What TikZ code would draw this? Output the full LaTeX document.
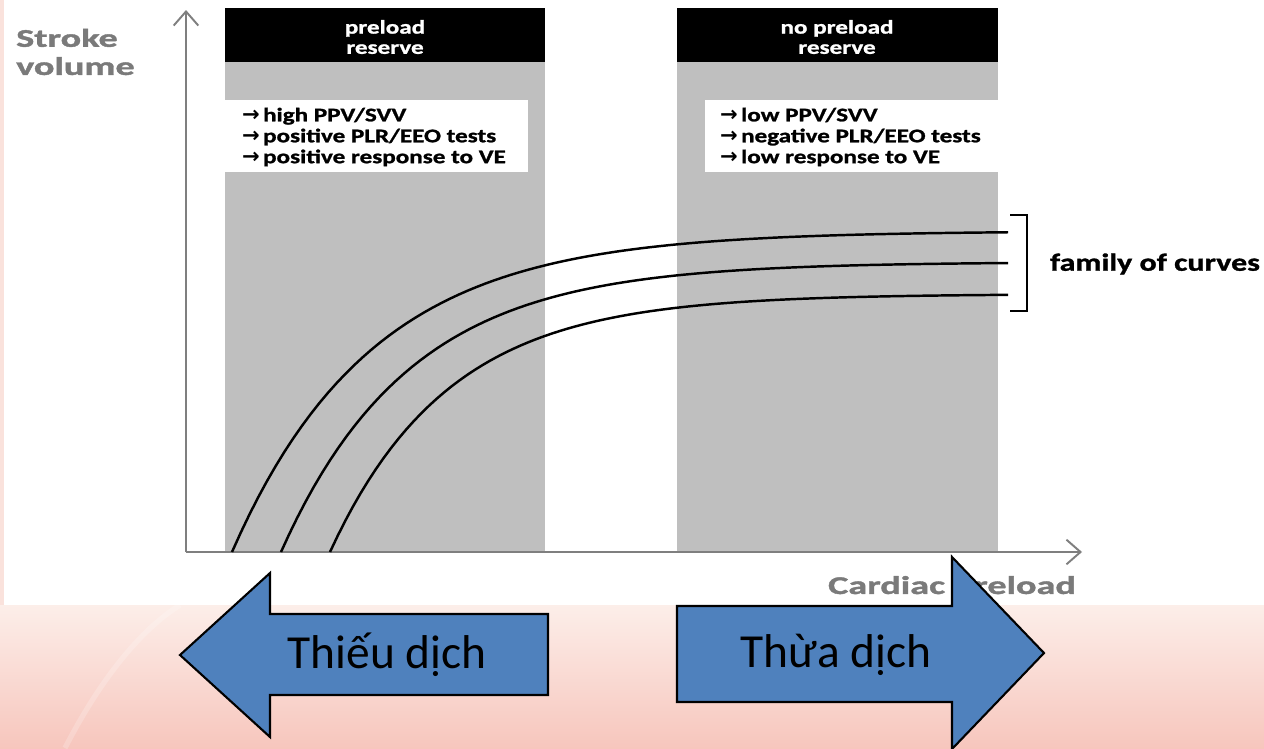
\documentclass[tikz,border=0pt]{standalone}
\usepackage{fontspec}
\setmainfont{Carlito}
\newfontfamily\chartfont[FakeStretch=1.3, FakeBold=1.2]{Carlito}
\newfontfamily\widefont[FakeStretch=1.5, FakeBold=1.5]{Carlito}
\newfontfamily\arrowfont{DejaVu Sans}
\newcommand{\tickarrow}{{\arrowfont\bfseries\fontsize{12}{11.9}\selectfont →}}
\usetikzlibrary{arrows.meta}

\definecolor{panelgray}{HTML}{BFBFBF}
\definecolor{axisgray}{HTML}{7F7F7F}
\definecolor{labelgray}{HTML}{7A7A7A}
\definecolor{arrowblue}{HTML}{4F81BD}
\definecolor{pinktop}{HTML}{FCEEE9}
\definecolor{pinkbot}{HTML}{F7C6BD}

\begin{document}
\begin{tikzpicture}[x=0.02cm, y=-0.02cm,
    axis/.style={axisgray, line width=1.1pt, -{Straight Barb[length=8pt,width=14pt]}},
    curve/.style={black, line width=1.4pt},
    headtext/.style={white, font=\chartfont\bfseries\fontsize{11}{11.5}\selectfont, align=center},
    listtext/.style={black, font=\chartfont\bfseries\fontsize{11}{11.9}\selectfont, align=left, anchor=west},
    axislabel/.style={labelgray, font=\widefont\bfseries\fontsize{14.5}{16}\selectfont, align=left},
    bluearrow/.style={fill=arrowblue, draw=black, line width=1.2pt, line join=miter},
    arrowtext/.style={black, font=\fontsize{27}{30}\selectfont}]
    \useasboundingbox (0,0) rectangle (1264,748);
    \clip (0,0) rectangle (1264,748);

    % slide background
    \shade[top color=pinktop, bottom color=pinkbot] (0,605) rectangle (1264,748);
    \fill[pinktop!70!pinkbot] (0,0) rectangle (4,605);
    \draw[white, opacity=0.2, line width=3pt] (65,748) .. controls (100,680) and (140,630) .. (180,605);
    \fill[white] (4,0) rectangle (1264,605);

    % the two panels
    \foreach \xa/\xb in {225/545, 677/998} {
        \fill[panelgray] (\xa,8) rectangle (\xb,552);
        \fill[black] (\xa,8) rectangle (\xb,62);
    }
    \fill[white] (225,100) rectangle (528,172);
    \fill[white] (705,100) rectangle (998,172);

    \node[headtext] (reserve) at (385,37) {preload\\reserve};
    \node[headtext] (noreserve) at (837,37) {no preload\\reserve};

    \node[listtext] (highlist) at (236,137) {\tickarrow\,high PPV/SVV\\\tickarrow\,positive PLR/EEO tests\\\tickarrow\,positive response to VE};
    \node[listtext] (lowlist) at (714,137) {\tickarrow\,low PPV/SVV\\\tickarrow\,negative PLR/EEO tests\\\tickarrow\,low response to VE};

    % axes
    \coordinate (origin) at (186,552);
    \coordinate (ytip) at (186,10);
    \coordinate (xtip) at (1082,552);
    \draw[axis] (origin) -- (ytip);
    \draw[axis] (origin) -- (xtip);
    \node[axislabel, anchor=west] (svlabel) at (10,52) {Stroke\\volume};
    \node[axislabel] (cplabel) at (952,587) {Cardiac preload};

    % Frank-Starling curves
    \foreach \xs/\ytop/\rate in {232/231/0.00714, 281/262/0.00777, 330/294/0.00845} {
        \draw[curve] plot[domain=\xs:1008, samples=90] (\x, {552-(552-\ytop)*(1-exp(-\rate*(\x-\xs)))});
    }

    % bracket
    \draw[black, line width=0.7pt] (1010,215) -- (1027,215) -- (1027,311) -- (1010,311);
    \node[black, font=\chartfont\bfseries\fontsize{14}{16}\selectfont] (family) at (1155,264) {family of curves};

    % fluid arrows
    \draw[bluearrow] (180,655) -- (270,573) -- (270,614) -- (548,614) -- (548,695) -- (270,695) -- (270,737) -- cycle;
    \draw[bluearrow] (1044,653) -- (952,557) -- (952,606) -- (677,606) -- (677,702) -- (952,702) -- (952,749) -- cycle;
    \node[arrowtext] (thieu) at (387,655) {Thiếu dịch};
    \node[arrowtext] (thua) at (836,655) {Thừa dịch};
\end{tikzpicture}
\end{document}
